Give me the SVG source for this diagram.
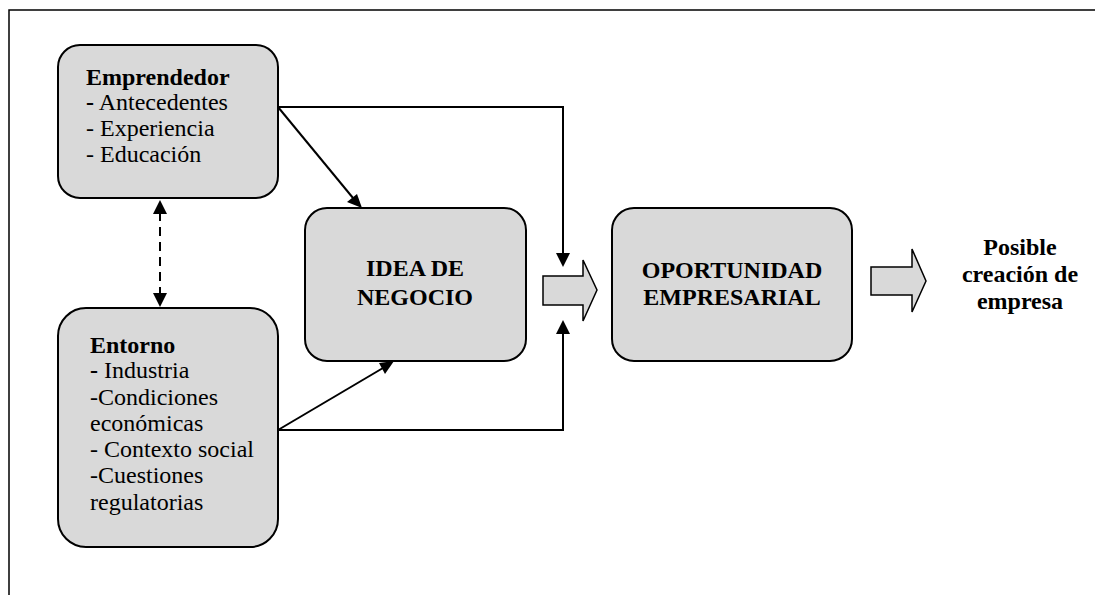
<svg xmlns="http://www.w3.org/2000/svg" width="1095" height="595" viewBox="0 0 1095 595">
  <style>
    .box { fill: #d9d9d9; stroke: #000; stroke-width: 2; }
    .blk { fill: #d9d9d9; stroke: #000; stroke-width: 1.5; }
    .t { font-family: "Liberation Serif", "Times New Roman", serif; font-size: 24px; fill: #000; }
    .b { font-weight: bold; }
    .c { text-anchor: middle; font-weight: bold; font-size: 24px; }
    .ln { fill: none; stroke: #000; stroke-width: 2; }
  </style>

  <!-- outer frame (top and left edges) -->
  <path d="M9,595 L9,10 L1095,10" fill="none" stroke="#000" stroke-width="1.5"/>

  <g id="emprendedor">
    <rect class="box" x="58" y="45" width="220" height="153" rx="22" ry="22"/>
    <text class="t b" x="86" y="85">Emprendedor</text>
    <text class="t" x="86" y="110"><tspan font-weight="bold">-</tspan> Antecedentes</text>
    <text class="t" x="86" y="136">- Experiencia</text>
    <text class="t" x="86" y="162">- Educación</text>
  </g>

  <g id="entorno">
    <rect class="box" x="58" y="308" width="220" height="239" rx="28" ry="28"/>
    <text class="t b" x="90" y="353">Entorno</text>
    <text class="t" x="90" y="378"><tspan font-weight="bold">-</tspan> Industria</text>
    <text class="t" x="90" y="405">-Condiciones</text>
    <text class="t" x="90" y="431">económicas</text>
    <text class="t" x="90" y="457">- Contexto social</text>
    <text class="t" x="90" y="483">-Cuestiones</text>
    <text class="t" x="90" y="510">regulatorias</text>
  </g>

  <g id="idea">
    <rect class="box" x="305" y="208" width="221" height="153" rx="22" ry="22"/>
    <text class="t c" x="415" y="276">IDEA DE</text>
    <text class="t c" x="415" y="305">NEGOCIO</text>
  </g>

  <g id="oportunidad">
    <rect class="box" x="612" y="208" width="240" height="153" rx="22" ry="22"/>
    <text class="t c" x="732" y="278">OPORTUNIDAD</text>
    <text class="t c" x="732" y="305">EMPRESARIAL</text>
  </g>

  <g id="resultado">
    <text class="t c" x="1020" y="255">Posible</text>
    <text class="t c" x="1020" y="282">creación de</text>
    <text class="t c" x="1020" y="309">empresa</text>
  </g>

  <g id="connectors">
    <!-- dashed two-way link -->
    <line class="ln" x1="160" y1="212" x2="160" y2="295" stroke-dasharray="9,6"/>
    <path d="M160,200 L153,214 L167,214 z" fill="#000"/>
    <path d="M160,307 L153,293 L167,293 z" fill="#000"/>

    <!-- into the business idea -->
    <line class="ln" x1="278" y1="107" x2="353" y2="198"/>
    <path d="M362,208 L347,202 L357,194 z" fill="#000"/>
    <line class="ln" x1="278" y1="430" x2="383" y2="368"/>
    <path d="M394,361 L385,374 L379,363 z" fill="#000"/>

    <!-- bypass lines -->
    <polyline class="ln" points="278,107 563,107 563,255"/>
    <path d="M563,267 L556,253 L570,253 z" fill="#000"/>
    <polyline class="ln" points="278,430 563,430 563,333"/>
    <path d="M563,320 L556,334 L570,334 z" fill="#000"/>

    <!-- block arrows -->
    <path class="blk" d="M543,276 L583,276 L583,260 L597,290 L583,321 L583,305 L543,305 z"/>
    <path class="blk" d="M871,267 L912,267 L912,249 L926,281 L912,312 L912,295 L871,295 z"/>
  </g>
</svg>
